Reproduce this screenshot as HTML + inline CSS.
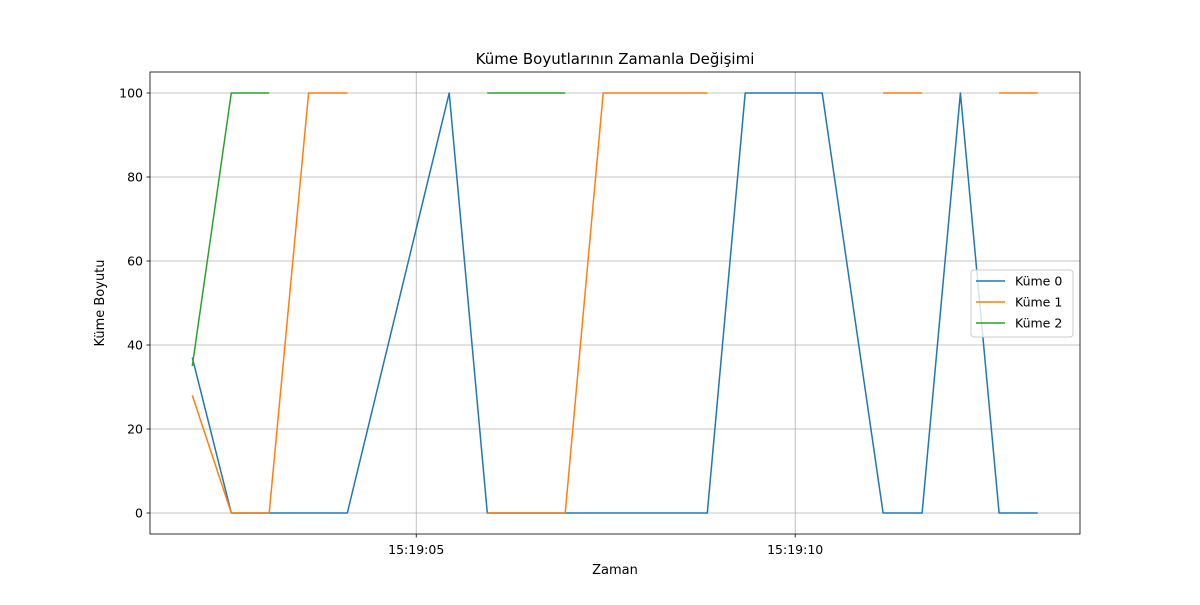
<!DOCTYPE html>
<html><head><meta charset="utf-8"><style>
body{margin:0;background:#fff;font-family:"Liberation Sans","DejaVu Sans",sans-serif;}
svg text{font-family:"DejaVu Sans","Liberation Sans",sans-serif;}
</style></head><body>
<svg id="c" width="1200" height="600"></svg>
<script>
// seconds after 15:19:00
const times=[2.045,2.56,3.06,3.58,4.09,5.435,5.937,6.966,7.467,8.84,9.34,10.356,11.16,11.675,12.18,12.69,13.2];
const kume0=[37,0,0,0,0,100,0,0,0,0,100,100,0,0,100,0,0];
const kume1=[28,0,0,100,100,null,0,0,100,100,null,null,100,100,null,100,100];
const kume2=[35,100,100,null,null,null,100,100,null,null,null,null,null,null,null,null,null];
const seriesNames=["Küme 0","Küme 1","Küme 2"];
const yTicks=[0,20,40,60,80,100];
const xTickSecs=[5,10];
const xTickLabels=["15:19:05","15:19:10"];

const NS="http://www.w3.org/2000/svg";
const svg=document.getElementById('c');
const L=150,R=1080,T=72,B=534;
const tmin=Math.min(...times),tmax=Math.max(...times),pad=(tmax-tmin)*0.05;
const x=t=>L+(t-(tmin-pad))/((tmax+pad)-(tmin-pad))*(R-L);
const y=v=>B-(v-(-5))/(110)*(B-T);
function el(tag,attrs,parent){const e=document.createElementNS(NS,tag);for(const k in attrs)e.setAttribute(k,attrs[k]);(parent||svg).appendChild(e);return e;}
function txt(s,attrs){const e=el('text',attrs);e.textContent=s;return e;}

// grid
yTicks.forEach((v,i)=>{
 const g=el('line',{x1:L,x2:R,y1:y(v),y2:y(v),stroke:'#b0b0b0','stroke-width':0.8});
 
 
 el('line',{x1:L-3.5,x2:L,y1:y(v),y2:y(v),stroke:'#000','stroke-width':0.8});
 const t=txt(String(v),{x:L-7,y:y(v)+4.5,'text-anchor':'end','font-size':12.5});
 
 
});
xTickSecs.forEach((s,i)=>{
 const g=el('line',{x1:x(s),x2:x(s),y1:T,y2:B,stroke:'#b0b0b0','stroke-width':0.8});
 
 
 el('line',{x1:x(s),x2:x(s),y1:B,y2:B+3.5,stroke:'#000','stroke-width':0.8});
 const t=txt(xTickLabels[i],{x:x(s),y:B+20,'text-anchor':'middle','font-size':12.5});
 
 
});

const colors=['#1f77b4','#ff7f0e','#2ca02c'];
[kume0,kume1,kume2].forEach((ser,si)=>{
 let d='',pen=false;
 ser.forEach((v,i)=>{
  if(v===null){pen=false;return;}
  d+=(pen?'L':'M')+x(times[i]).toFixed(1)+' '+y(v).toFixed(1)+' ';pen=true;
 });
 const p=el('path',{d:d,fill:'none',stroke:colors[si],'stroke-width':1.5,'stroke-linejoin':'round'});
 
 
});

const frame=el('rect',{x:L,y:T,width:R-L,height:B-T,fill:'none',stroke:'#000','stroke-width':0.8});



const title=txt('Küme Boyutlarının Zamanla Değişimi',{x:(L+R)/2,y:64,'text-anchor':'middle','font-size':15});


const xt=txt('Zaman',{x:(L+R)/2,y:574,'text-anchor':'middle','font-size':13});


const yt=txt('Küme Boyutu',{x:104,y:(T+B)/2,'text-anchor':'middle','font-size':13,transform:`rotate(-90 104 ${(T+B)/2})`});



const lg=el('rect',{x:971,y:270,width:102,height:67,rx:3,fill:'#fff','fill-opacity':0.8,stroke:'#ccc'});


seriesNames.forEach((n,i)=>{
 const yy=281+i*21;
 el('line',{x1:976,x2:1005,y1:yy,y2:yy,stroke:colors[i],'stroke-width':1.5});
 const t=txt(n,{x:1015,y:yy+4.5,'font-size':12.5});
 
 
});
</script>
</body></html>
